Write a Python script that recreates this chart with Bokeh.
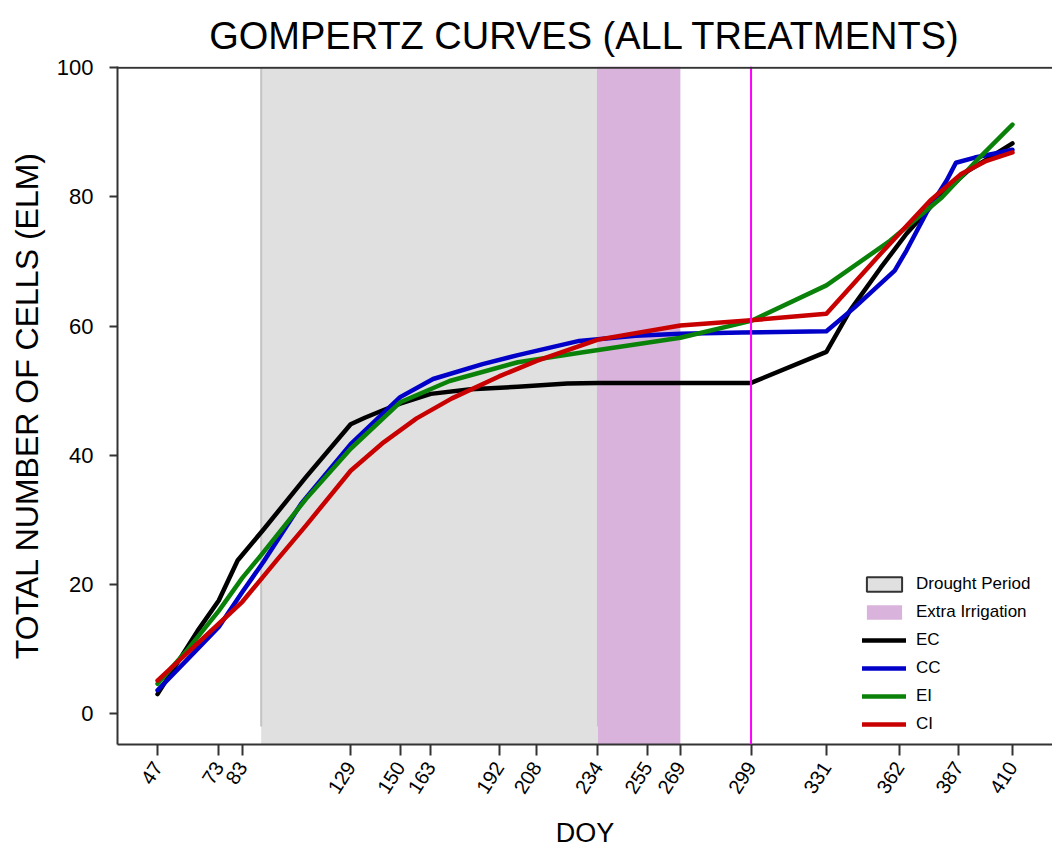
import math

from bokeh.plotting import figure
from bokeh.models import FixedTicker, Span, Legend, LegendItem, Range1d
from bokeh.embed import file_html
from bokeh.resources import INLINE

# ---- data -------------------------------------------------------------
doy_ticks = [47, 73, 83, 129, 150, 163, 192, 208, 234, 255, 269, 299, 331, 362, 387, 410]
y_ticks = [0, 20, 40, 60, 80, 100]

drought_period = (91, 234)
extra_irrigation = (234, 269)
marker_doy = 299

ec_doy = [47, 64, 73, 81, 92, 110, 129, 135, 143, 150, 163, 180, 200, 221, 234, 299,
          331, 341, 354, 365, 379, 391, 410]
ec_cells = [3.0, 12.8, 17.5, 23.7, 28.5, 36.6, 44.8, 45.8, 47.0, 48.0, 49.5, 50.2, 50.6,
            51.1, 51.2, 51.2, 56.0, 62.4, 69.0, 74.3, 80.0, 84.0, 88.3]

cc_doy = [47, 60, 73, 83, 92, 108, 129, 150, 164, 185, 200, 226, 250, 269, 295, 331,
          343, 360, 365, 374, 382, 386, 394, 402, 410]
cc_cells = [3.6, 8.5, 13.4, 18.8, 23.5, 32.5, 41.7, 49.0, 51.8, 54.1, 55.5, 57.7, 58.5,
            58.8, 59.0, 59.2, 62.9, 68.6, 71.7, 77.9, 82.5, 85.3, 86.1, 86.7, 87.3]

ei_doy = [47, 60, 73, 83, 92, 110, 129, 150, 171, 200, 227, 269, 299, 331, 358, 380, 396, 410]
ei_cells = [4.6, 10.0, 15.9, 21.0, 25.0, 33.2, 41.0, 48.2, 51.5, 54.4, 55.9, 58.2, 60.8,
            66.3, 73.2, 79.9, 86.1, 91.2]

ci_doy = [47, 60, 73, 83, 98, 110, 129, 143, 157, 172, 192, 208, 234, 269, 299, 331, 354,
          375, 388, 399, 410]
ci_cells = [5.1, 9.5, 13.9, 17.3, 23.9, 29.1, 37.6, 42.0, 45.7, 48.8, 52.2, 54.6, 57.9,
            60.1, 60.9, 61.9, 71.2, 79.4, 83.5, 85.6, 86.9]

series = [
    ("EC", ec_doy, ec_cells, "#000000"),
    ("CC", cc_doy, cc_cells, "#0000c8"),
    ("EI", ei_doy, ei_cells, "#0a820a"),
    ("CI", ci_doy, ci_cells, "#c80000"),
]

FONT = "Liberation Sans"
DROUGHT_FILL = "#e0e0e0"
IRRIGATION_FILL = "#d9b3db"
AXIS_COLOR = "#333333"

# ---- figure -----------------------------------------------------------
p = figure(
    width=1052, height=854,
    x_range=Range1d(30.0, 427.0), y_range=Range1d(-4.8, 100.2),
    output_backend="svg", toolbar_location=None,
    min_border_left=117, min_border_right=0, min_border_top=66, min_border_bottom=110,
    title="GOMPERTZ CURVES (ALL TREATMENTS)",
)
p.outline_line_color = None
p.xgrid.grid_line_color = None
p.ygrid.grid_line_color = None
p.background_fill_color = "white"
p.border_fill_color = "white"

p.title.text_font = FONT
p.title.text_font_size = "38px"
p.title.text_font_style = "normal"
p.title.align = "center"
p.title.text_color = "#000000"
p.title.standoff = 20
p.title.offset = 11

# shaded periods
ylo, yhi = p.y_range.start, p.y_range.end
p.quad(left=[drought_period[0]], right=[drought_period[1]], bottom=[ylo], top=[yhi],
       fill_color=DROUGHT_FILL, line_color=None)
p.segment(x0=list(drought_period), x1=list(drought_period), y0=[-2, -2], y1=[100, 100],
          line_color="#c4c4c4", line_width=2)
p.quad(left=[extra_irrigation[0]], right=[extra_irrigation[1]], bottom=[ylo], top=[yhi],
       fill_color=IRRIGATION_FILL, line_color=None)

# marker line
p.add_layout(Span(location=marker_doy, dimension="height", line_color="#ff00ff", line_width=2))

# curves
line_renderers = []
for name, xs, ys, color in series:
    r = p.line(xs, ys, line_color=color, line_width=4.5, line_join="round", line_cap="round")
    line_renderers.append((name, r))

# top border
p.add_layout(Span(location=100, dimension="width", line_color=AXIS_COLOR, line_width=2))

# legend swatches (hidden renderers, used only for the legend keys)
drought_key = p.quad(left=[drought_period[0]], right=[drought_period[1]], bottom=[ylo], top=[yhi],
                     fill_color=DROUGHT_FILL, line_color="#333333", line_width=2)
drought_key.visible = False
irrigation_key = p.quad(left=[extra_irrigation[0]], right=[extra_irrigation[1]], bottom=[ylo],
                        top=[yhi], fill_color=IRRIGATION_FILL, line_color=None)
irrigation_key.visible = False

items = [LegendItem(label="Drought Period", renderers=[drought_key]),
         LegendItem(label="Extra Irrigation", renderers=[irrigation_key])]
items += [LegendItem(label=n, renderers=[r]) for n, r in line_renderers]
legend = Legend(items=items, location=(745, 10), orientation="vertical",
                glyph_width=44, glyph_height=18, label_height=18, spacing=8,
                label_standoff=10, padding=0, margin=0,
                label_text_font=FONT, label_text_font_size="17px",
                label_text_color="#000000",
                border_line_color=None, background_fill_alpha=0)
p.add_layout(legend)

# axes
p.xaxis.ticker = FixedTicker(ticks=doy_ticks)
p.xaxis.major_label_orientation = 1.0
p.xaxis.axis_label = "DOY"
p.yaxis.ticker = FixedTicker(ticks=y_ticks)
p.yaxis.axis_label = "TOTAL NUMBER OF CELLS (ELM)"

for ax in (p.xaxis, p.yaxis):
    ax.axis_line_color = AXIS_COLOR
    ax.axis_line_width = 2
    ax.major_tick_line_color = AXIS_COLOR
    ax.major_tick_line_width = 2
    ax.major_tick_in = 0
    ax.minor_tick_line_color = None
    ax.major_label_text_font = FONT
    ax.major_label_text_color = "#000000"
    ax.axis_label_text_font = FONT
    ax.axis_label_text_font_style = "normal"
    ax.axis_label_text_color = "#000000"

p.xaxis.major_tick_out = 11
p.xaxis.major_label_text_font_size = "20px"
p.xaxis.major_label_standoff = 8
p.xaxis.axis_label_text_font_size = "27px"
p.xaxis.axis_label_standoff = 16

p.yaxis.major_tick_out = 8
p.yaxis.major_label_text_font_size = "22px"
p.yaxis.major_label_standoff = 16
p.yaxis.axis_label_text_font_size = "32px"
p.yaxis.axis_label_standoff = 9

open("out.html", "w").write(file_html(p, INLINE))
